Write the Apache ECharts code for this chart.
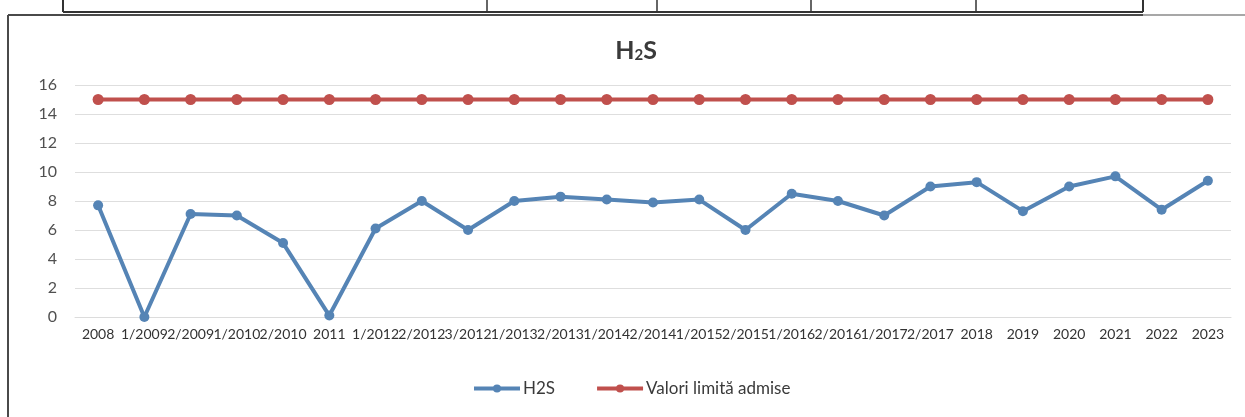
<!DOCTYPE html>
<html>
<head>
<meta charset="utf-8">
<script src="https://cdn.jsdelivr.net/npm/echarts@6/dist/echarts.min.js"></script>
<style>
  html, body { margin: 0; padding: 0; background: #ffffff; }
  #chart { width: 1245px; height: 417px; }
</style>
</head>
<body>
<div id="chart"></div>
<script>
const categories = ["2008", "1/2009", "2/2009", "1/2010", "2/2010", "2011", "1/2012", "2/2012", "3/2012",
  "1/2013", "2/2013", "1/2014", "2/2014", "1/2015", "2/2015", "1/2016", "2/2016", "1/2017", "2/2017",
  "2018", "2019", "2020", "2021", "2022", "2023"];
const h2sValues = [7.7, 0, 7.1, 7.0, 5.1, 0.1, 6.1, 8.0, 6.0, 8.0, 8.3, 8.1, 7.9, 8.1, 6.0, 8.5, 8.0, 7.0, 9.0, 9.3, 7.3, 9.0, 9.7, 7.4, 9.4];
const limitValues = [15, 15, 15, 15, 15, 15, 15, 15, 15, 15, 15, 15, 15, 15, 15, 15, 15, 15, 15, 15, 15, 15, 15, 15, 15];
const seriesNames = ["H2S", "Valori limită admise"];
const yMin = 0, yMax = 16, yStep = 2;

const chart = echarts.init(document.getElementById('chart'), null, { renderer: 'canvas' });
const FONT = 'Lato';
chart.setOption({
  backgroundColor: '#ffffff',
  animation: false,
  title: {
    text: '{a|H}{b|2}{a|S}',
    left: 631,
    top: 33,
    textAlign: 'center',
    textStyle: {
      rich: {
        a: { fontSize: 25, fontWeight: 'bold', color: '#3a3a3a', fontFamily: FONT },
        b: { fontSize: 15, fontWeight: 'bold', color: '#3a3a3a', fontFamily: FONT, verticalAlign: 'bottom', padding: [8, 0, 0, 0] }
      }
    }
  },
  legend: {
    left: 472,
    top: 380,
    padding: 0,
    itemWidth: 46,
    itemHeight: 10,
    itemGap: 40,
    lineStyle: { width: 4 },
    textStyle: { fontSize: 17, color: '#3a3a3a', fontFamily: FONT, padding: [0, 0, 0, -2] },
    data: seriesNames
  },
  grid: { left: 75, right: 14, top: 85, bottom: 100, containLabel: false },
  xAxis: {
    type: 'category',
    data: categories,
    boundaryGap: true,
    axisTick: { show: false },
    axisLine: { show: true, lineStyle: { color: '#dcdcdc', width: 1 } },
    axisLabel: { interval: 0, fontSize: 14, color: '#333333', fontFamily: FONT, margin: 10 }
  },
  yAxis: {
    type: 'value',
    min: yMin, max: yMax, interval: yStep,
    axisLine: { show: false },
    axisTick: { show: false },
    axisLabel: { fontSize: 16, color: '#505050', fontFamily: FONT, margin: 18 },
    splitLine: { lineStyle: { color: '#dedede', width: 1 } }
  },
  series: [
    {
      name: seriesNames[0], type: 'line', data: h2sValues,
      symbol: 'circle', symbolSize: 10,
      lineStyle: { color: '#5584b5', width: 4 },
      itemStyle: { color: '#5584b5' }
    },
    {
      name: seriesNames[1], type: 'line', data: limitValues,
      symbol: 'circle', symbolSize: 11,
      lineStyle: { color: '#c0504d', width: 4 },
      itemStyle: { color: '#c0504d' }
    }
  ],
  graphic: [
    { type: 'line', shape: { x1: 8, y1: 15, x2: 1143, y2: 15 }, style: { stroke: '#4a4a4a', lineWidth: 2 } },
    { type: 'line', shape: { x1: 1143, y1: 15, x2: 1245, y2: 15 }, style: { stroke: '#8a8a8a', lineWidth: 1.5 } },
    { type: 'line', shape: { x1: 8, y1: 15, x2: 8, y2: 417 }, style: { stroke: '#4a4a4a', lineWidth: 2 } },
    { type: 'line', shape: { x1: 63, y1: 12, x2: 1143, y2: 12 }, style: { stroke: '#333333', lineWidth: 2 } },
    { type: 'line', shape: { x1: 63, y1: 0, x2: 63, y2: 12 }, style: { stroke: '#333333', lineWidth: 2 } },
    { type: 'line', shape: { x1: 487, y1: 0, x2: 487, y2: 12 }, style: { stroke: '#333333', lineWidth: 1.5 } },
    { type: 'line', shape: { x1: 657, y1: 0, x2: 657, y2: 12 }, style: { stroke: '#333333', lineWidth: 1.5 } },
    { type: 'line', shape: { x1: 811, y1: 0, x2: 811, y2: 12 }, style: { stroke: '#333333', lineWidth: 1.5 } },
    { type: 'line', shape: { x1: 976, y1: 0, x2: 976, y2: 12 }, style: { stroke: '#333333', lineWidth: 1.5 } },
    { type: 'line', shape: { x1: 1143, y1: 0, x2: 1143, y2: 12 }, style: { stroke: '#333333', lineWidth: 2 } }
  ]
});
</script>
</body>
</html>
